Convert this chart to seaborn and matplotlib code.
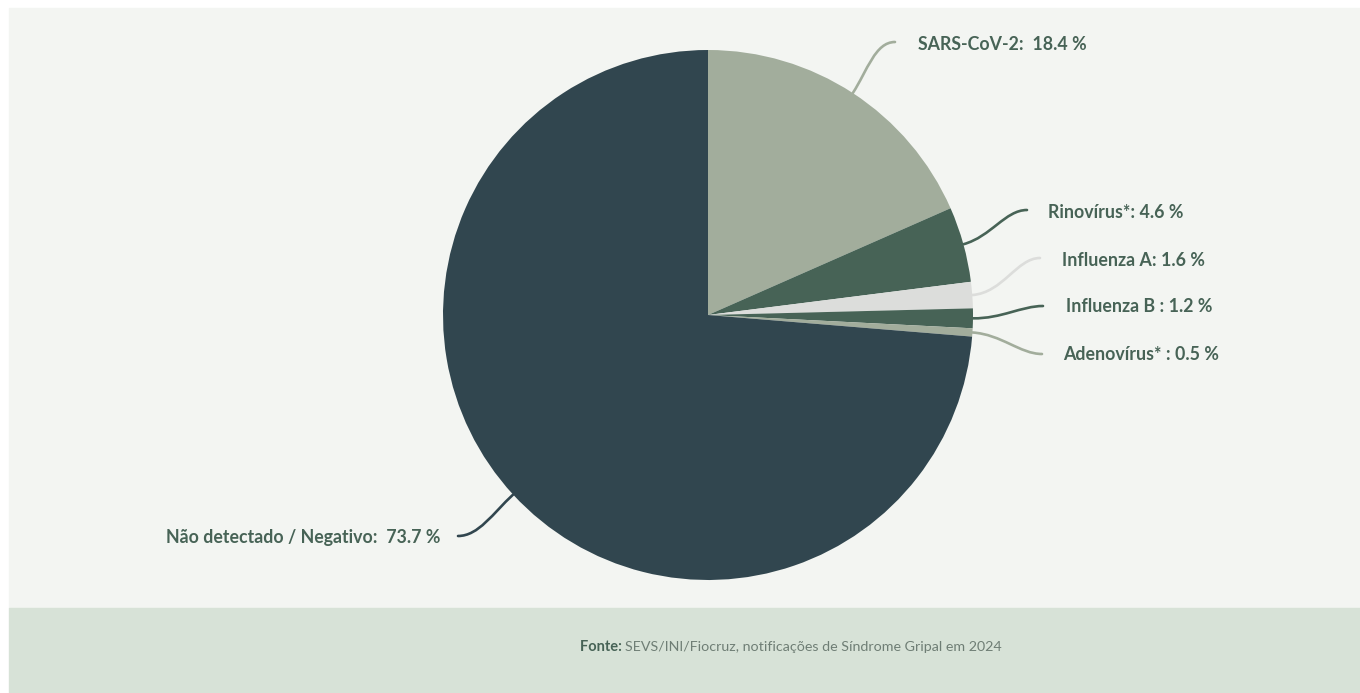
import numpy as np
import seaborn as sns
import matplotlib.pyplot as plt
from matplotlib.patches import Rectangle, PathPatch
from matplotlib.path import Path

# dados do gráfico
categorias = ["SARS-CoV-2", "Rinovírus*", "Influenza A", "Influenza B",
              "Adenovírus*", "Não detectado / Negativo"]
valores = [18.4, 4.6, 1.6, 1.2, 0.5, 73.7]
separadores = [":  ", ": ", ": ", " : ", " : ", ":  "]
cores = ["#a2ad9c", "#476356", "#dcdddb", "#476356", "#a2ad9c", "#31464f"]
fonte_titulo = "Fonte:"
fonte_texto = "SEVS/INI/Fiocruz, notificações de Síndrome Gripal em 2024"

sns.set_theme(style="white")
plt.rcParams["font.family"] = ["Lato", "DejaVu Sans"]

W, H = 1360, 693
fig = plt.figure(figsize=(W / 100, H / 100), dpi=100, facecolor="white")
ax = fig.add_axes([0, 0, 1, 1])

# fundo do painel e faixa inferior
ax.add_patch(Rectangle((9, 85), W - 9, H - 8 - 85, color="#f3f5f2", zorder=0))
ax.add_patch(Rectangle((9, 0), W - 9, 85, color="#d7e2d7", zorder=0))

cx, cy, r = 708, H - 315, 265
wedges, _ = ax.pie(valores, colors=cores, startangle=90, counterclock=False,
                   center=(cx, cy), radius=r, frame=True,
                   wedgeprops={"linewidth": 0})
ax.set_xlim(0, W)
ax.set_ylim(0, H)
ax.set_aspect("equal")
ax.axis("off")

# posições dos rótulos (pixels): texto x, y, ha, fim da linha x, y
rotulos = [
    (918, 45, "left", 895, 42),
    (1048, 212, "left", 1027, 210),
    (1062, 260, "left", 1040, 258),
    (1066, 307, "left", 1043, 306),
    (1063, 354, "left", 1042, 354),
    (440, 537, "right", 458, 536),
]

for w, cat, val, sep, cor, (tx, ty, ha, ex, ey) in zip(
        wedges, categorias, valores, separadores, cores, rotulos):
    ang = np.deg2rad((w.theta1 + w.theta2) / 2)
    ux, uy = np.cos(ang), np.sin(ang)
    p0 = np.array([cx + r * ux, cy + r * uy])
    p3 = np.array([ex, H - ey])
    d = np.hypot(*(p3 - p0))
    hdir = 1 if ha == "left" else -1
    p1 = p0 + np.array([ux, uy]) * d * 0.4
    p2 = p3 - np.array([hdir, 0]) * d * 0.3
    path = Path([p0, p1, p2, p3],
                [Path.MOVETO, Path.CURVE4, Path.CURVE4, Path.CURVE4])
    ax.add_patch(PathPatch(path, facecolor="none", edgecolor=cor,
                           linewidth=1.9, capstyle="round", zorder=3))
    ax.text(tx, H - ty, f"{cat}{sep}{val} %", ha=ha, va="center",
            fontsize=12.8, fontweight="bold", color="#476356")

t = ax.text(580, H - 647, fonte_titulo + " ", ha="left", va="center",
            fontsize=10.5, fontweight="bold", color="#476356")
fig.canvas.draw()
bb = t.get_window_extent()
ax.text(bb.x1, H - 647, fonte_texto, ha="left", va="center",
        fontsize=10.3, color="#6f7e75")

fig.savefig("out.png", dpi=100, facecolor="white")
